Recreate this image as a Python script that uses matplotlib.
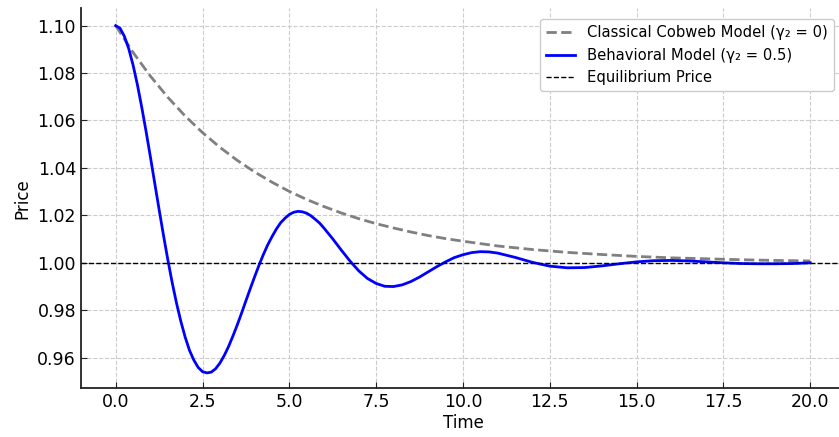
import matplotlib
matplotlib.use("Agg")
import matplotlib.pyplot as plt

plt.rcParams['font.family'] = ['DejaVu Sans']

# classical cobweb model
t_classical = [0, 0.5, 1, 1.5, 2, 2.5, 3, 3.5, 4, 4.5, 5, 5.5, 6, 6.5, 7, 7.5, 8, 8.5, 9, 9.5,
               10, 11, 12, 13, 14, 15, 16, 17, 18, 19, 20]
p_classical = [1.1000, 1.0887, 1.0787, 1.0698, 1.0619, 1.0549, 1.0487, 1.0432, 1.0383, 1.0340,
               1.0301, 1.0267, 1.0237, 1.0210, 1.0186, 1.0165, 1.0147, 1.0130, 1.0115, 1.0102,
               1.0091, 1.0071, 1.0056, 1.0044, 1.0035, 1.0027, 1.0021, 1.0017, 1.0013, 1.0010, 1.0008]

# behavioral model
t_behav = [0, 0.125, 0.25, 0.375, 0.5, 0.625, 0.75, 0.875, 1.0, 1.125, 1.25, 1.375, 1.5, 1.625,
           1.75, 1.875, 2.0, 2.125, 2.25, 2.375, 2.5, 2.625, 2.75, 2.875, 3.0, 3.125, 3.25, 3.375,
           3.5, 3.625, 3.75, 3.875, 4.0, 4.125, 4.25, 4.375, 4.5, 4.625, 4.75, 4.875, 5.0, 5.125,
           5.25, 5.375, 5.5, 5.625, 5.75, 5.875, 6.0, 6.25, 6.5, 6.75, 7.0, 7.25, 7.5, 7.75,
           8.0, 8.25, 8.5, 8.75, 9.0, 9.25, 9.5, 9.75, 10.0, 10.25, 10.5, 10.75, 11.0, 11.5, 12.0,
           12.5, 13.0, 13.5, 14.0, 14.5, 15.0, 15.5, 16.0, 16.5, 17.0, 17.5, 18.0, 18.5, 19.0, 19.5, 20.0]
p_behav = [1.1000, 1.0989, 1.0955, 1.0903, 1.0834, 1.0751, 1.0656, 1.0554, 1.0446, 1.0335,
           1.0225, 1.0117, 1.0014, 0.9918, 0.9831, 0.9754, 0.9687, 0.9631, 0.9590, 0.9559,
           0.9541, 0.9536, 0.9539, 0.9553, 0.9577, 0.9609, 0.9647, 0.9691, 0.9738, 0.9788,
           0.9840, 0.9891, 0.9941, 0.9989, 1.0034, 1.0075, 1.0110, 1.0142, 1.0169, 1.0188,
           1.0204, 1.0213, 1.0217, 1.0215, 1.0209, 1.0198, 1.0183, 1.0167, 1.0146, 1.0101,
           1.0053, 1.0007, 0.9966, 0.9934, 0.9913, 0.9901, 0.9900, 0.9907, 0.9921, 0.9940,
           0.9962, 0.9984, 1.0004, 1.0022, 1.0034, 1.0043, 1.0047, 1.0046, 1.0041, 1.0023,
           1.0002, 0.9986, 0.9979, 0.9980, 0.9987, 0.9996, 1.0004, 1.0009, 1.0010, 1.0008,
           1.0004, 1.0000, 0.9997, 0.9996, 0.9996, 0.9997, 1.0000]

equilibrium = 1.0

fig = plt.figure(figsize=(8.39, 4.37), dpi=100)
ax = fig.add_axes([0.0965, 0.112, 0.9106, 0.869])

ax.plot(t_classical, p_classical, '--', color='gray', lw=2, label='Classical Cobweb Model (γ₂ = 0)')
ax.plot(t_behav, p_behav, '-', color='blue', lw=2, label='Behavioral Model (γ₂ = 0.5)')
ax.axhline(equilibrium, color='black', ls='--', lw=1, label='Equilibrium Price')

ax.set_xlim(-1, 21)
ax.set_ylim(0.9472, 1.1073)
ax.set_xticks([0, 2.5, 5, 7.5, 10, 12.5, 15, 17.5, 20])
ax.set_yticks([0.96, 0.98, 1.00, 1.02, 1.04, 1.06, 1.08, 1.10])
ax.set_xlabel('Time', fontsize=12, labelpad=2)
ax.set_ylabel('Price', fontsize=12, labelpad=4)
ax.tick_params(direction='in', labelsize=12.5, color='#222222', length=4)
ax.grid(True, ls='--', color='#cccccc', lw=0.8)
for s in ['top', 'right']:
    ax.spines[s].set_visible(False)
for s in ['left', 'bottom']:
    ax.spines[s].set_color('#222222')
    ax.spines[s].set_linewidth(1.3)

ax.legend(loc='upper right', bbox_to_anchor=(0.995, 0.99), fontsize=10.6, framealpha=1,
          edgecolor='#cccccc', fancybox=True)

fig.savefig('out.png', dpi=100)
